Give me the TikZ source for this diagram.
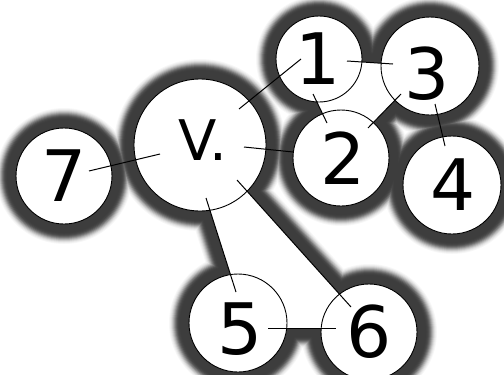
\documentclass[tikz,border=0pt]{standalone}
\usepackage{fontspec}
\setmainfont{DejaVu Sans}
\begin{document}
\begin{tikzpicture}[x=1pt,y=-1pt,
  vertex/.style={circle, draw=black, line width=0.9pt, fill=white, inner sep=0pt},
  digit/.style={inner sep=0pt, font=\fontsize{71}{71}\selectfont},
  vlabel/.style={inner sep=0pt, font=\fontsize{56}{56}\selectfont},
  link/.style={draw=black, line width=1pt},
  face/.style={fill=white}]
\useasboundingbox (0,0) rectangle (504,375);
\clip (0,0) rectangle (504,375);
% glow passes (outer dark halo)
\foreach \d/\c in {20/3,19/7,18/13,17/21,16/31,15/42,14/53,13/62,12/69,11/73,10/75,9/76}{
  \foreach \x/\y/\r in {200/145/66, 64/176/48, 319/59/43, 430/66/49, 341/158/48, 452/185/49, 238/323/49, 369/332/48}
    \fill[black!\c] (\x,\y) circle[radius=\r pt+\d pt];
  \filldraw[black!\c, line width={2pt*\d}, line join=round]
    (206,198) -- (236,292) -- (268,328) -- (336,328) -- (351,307) -- (237,180) -- cycle;
  \filldraw[black!\c, line width={2pt*\d}, line join=round]
    (347,61) -- (393,64) -- (401,94) -- (368,128) -- (327,123) -- (313,94) -- cycle;
}
% white faces
\fill[face] (206,198) -- (236,292) -- (268,328) -- (336,328) -- (351,307) -- (237,180) -- cycle;
\fill[face] (347,61) -- (393,64) -- (401,94) -- (368,128) -- (327,123) -- (313,94) -- cycle;
% vertices
\node[vertex, minimum size=132pt] (v) at (200,145) {};
\node[vertex, minimum size=96pt] (n7) at (64,176) {};
\node[vertex, minimum size=86pt] (n1) at (319,59) {};
\node[vertex, minimum size=98pt] (n3) at (430,66) {};
\node[vertex, minimum size=96pt] (n2) at (341,158) {};
\node[vertex, minimum size=98pt] (n4) at (452,185) {};
\node[vertex, minimum size=98pt] (n5) at (238,323) {};
\node[vertex, minimum size=96pt] (n6) at (369,332) {};
% labels
\node[vlabel] (tv) at (203,140) {V.};
\node[digit] (t7) at (64,176) {7};
\node[digit] (t1) at (318,59) {1};
\node[digit] (t3) at (427,74) {3};
\node[digit] (t2) at (343,158) {2};
\node[digit] (t4) at (453,185) {4};
\node[digit] (t5) at (240,329) {5};
\node[digit] (t6) at (369,332) {6};
% connector end points
\coordinate (v1a) at (239,109); \coordinate (v1b) at (301,59);
\coordinate (c13a) at (347,61); \coordinate (c13b) at (393,64);
\coordinate (c12a) at (313,94); \coordinate (c12b) at (327,123);
\coordinate (c32a) at (401,94); \coordinate (c32b) at (368,128);
\coordinate (c34a) at (435,104); \coordinate (c34b) at (445,146);
\coordinate (v2a) at (244,147); \coordinate (v2b) at (293,152);
\coordinate (v7a) at (160,154); \coordinate (v7b) at (89,171);
\coordinate (v5a) at (206,198); \coordinate (v5b) at (236,292);
\coordinate (v6a) at (237,180); \coordinate (v6b) at (351,307);
\coordinate (c56a) at (268,328); \coordinate (c56b) at (336,328);
% connectors
\draw[link] (v1a) -- (v1b);
\draw[link] (c13a) -- (c13b);
\draw[link] (c12a) -- (c12b);
\draw[link] (c32a) -- (c32b);
\draw[link] (c34a) -- (c34b);
\draw[link] (v2a) -- (v2b);
\draw[link] (v7a) -- (v7b);
\draw[link] (v5a) -- (v5b);
\draw[link] (v6a) -- (v6b);
\draw[link] (c56a) -- (c56b);
\end{tikzpicture}
\end{document}
